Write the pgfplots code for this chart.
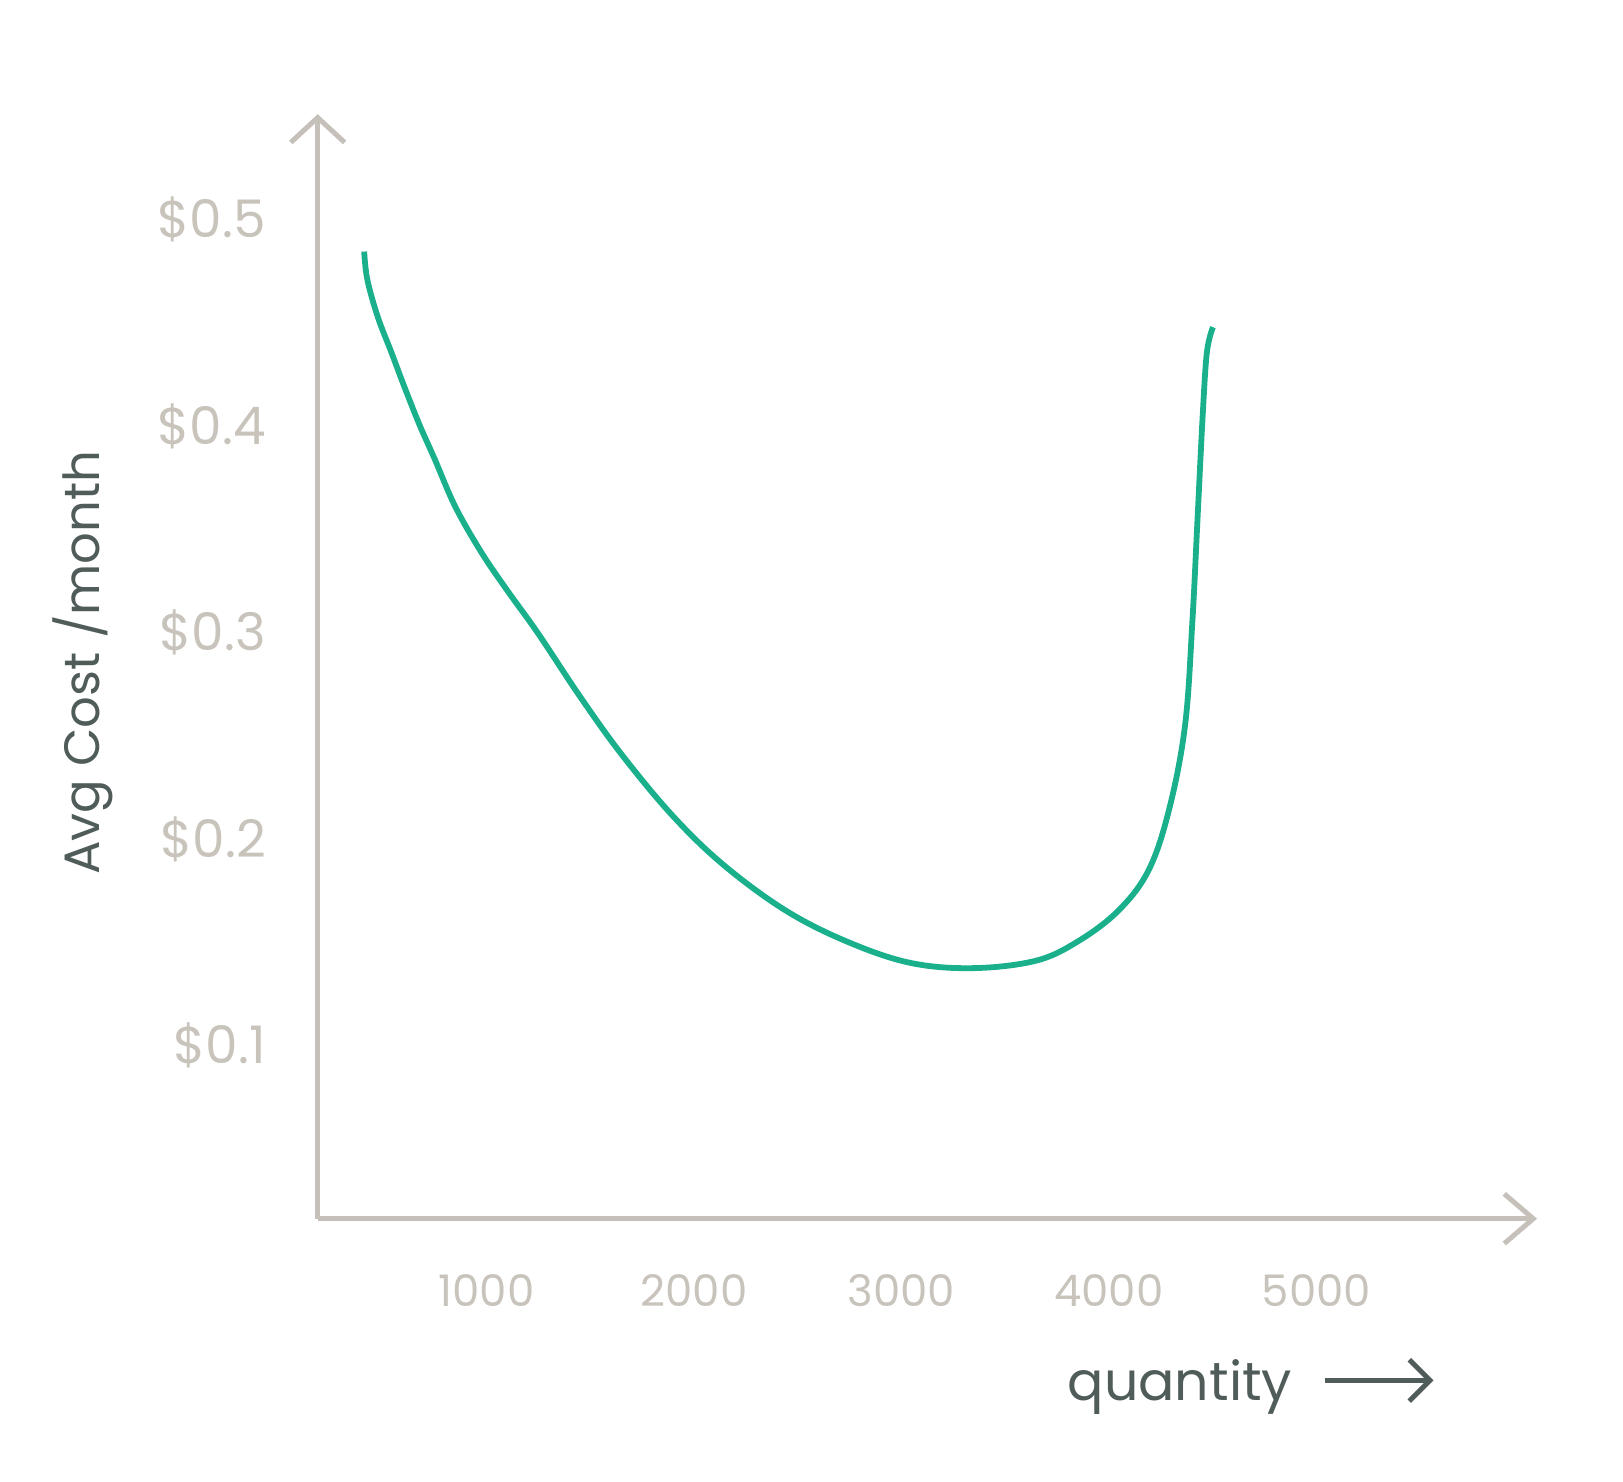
\documentclass[border=0pt]{standalone}
\usepackage{pgfplots}
\pgfplotsset{compat=1.18}
\usepackage{fontspec}
\setmainfont{Poppins}
\usetikzlibrary{arrows.meta}
\definecolor{axgray}{RGB}{197,193,186}
\definecolor{lblgray}{RGB}{200,196,188}
\definecolor{darklbl}{RGB}{80,92,90}
\definecolor{teal}{RGB}{26,176,140}
\begin{document}
\begin{tikzpicture}
\begin{axis}[
  scale only axis,
  width=294.5pt, height=266.75pt,
  xmin=187, xmax=6063, ymin=0.0163, ymax=0.551,
  axis lines=left,
  axis line style={axgray, line width=1.3pt},
  x axis line style={-{Straight Barb[length=7pt,width=12pt,line width=1.2pt]}},
  y axis line style={-{Straight Barb[length=6pt,width=13pt,line width=1.2pt]}},
  major tick length=0pt,
  xtick={1000,2000,3000,4000,5000},
  ytick={0.1,0.2,0.3,0.4,0.5},
  yticklabels={\$0.1,\$0.2,\$0.3,\$0.4,\$0.5},
  xticklabels={1000,2000,3000,4000,5000},
  xticklabel style={font=\fontsize{10.5}{12}\selectfont, text=lblgray, yshift=-10pt},
  yticklabel style={font=\fontsize{12.5}{15}\selectfont, text=lblgray, xshift=-9pt},
  clip=false,
]
\addplot[teal, line width=1.4pt, smooth, tension=0.6] coordinates {
(411,0.4845) (426,0.471) (476,0.453) (541,0.436) (601,0.420) (676,0.401)
(751,0.384) (850,0.361) (975,0.339) (1100,0.3205) (1250,0.2995) (1449,0.2694)
(1649,0.2414) (1898,0.2113) (2147,0.1872) (2447,0.1652) (2746,0.1501)
(3045,0.1401) (3345,0.1376) (3644,0.1411) (3843,0.1501) (4043,0.1652)
(4192,0.1852) (4292,0.2153) (4367,0.2554) (4402,0.3055) (4427,0.3556)
(4452,0.4058) (4472,0.4358) (4501,0.4479)
};
\node[rotate=90, text=darklbl, font=\fontsize{12}{14}\selectfont] at (axis cs:-945,0.2855) {Avg Cost /month};
\node[text=darklbl, font=\fontsize{13}{15}\selectfont] at (axis cs:4342,-0.0654) {quantity};
\draw[darklbl, line width=1.3pt, -{Straight Barb[length=5pt,width=10pt,line width=1.2pt]}] (axis cs:5040,-0.062) -- (axis cs:5564,-0.062);
\path (axis cs:-1344,-0.111) rectangle (axis cs:6477,0.6063);
\end{axis}
\end{tikzpicture}
\end{document}
